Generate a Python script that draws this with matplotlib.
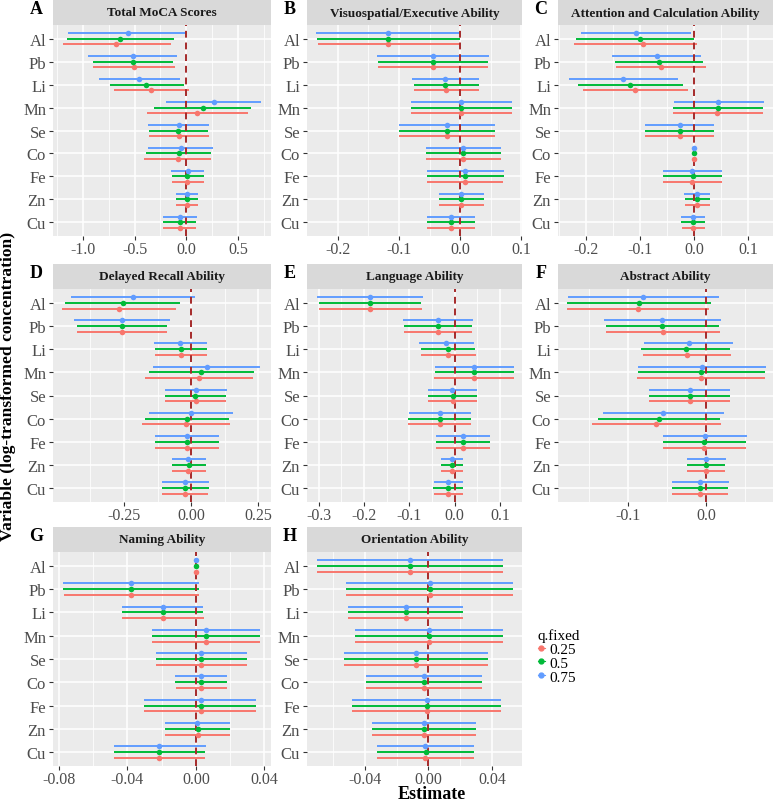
import matplotlib
matplotlib.use("Agg")
import matplotlib.pyplot as plt
from matplotlib.ticker import FormatStrFormatter
from matplotlib.lines import Line2D
import numpy as np

# ---- data (rows: q.fixed = 0.25, 0.5, 0.75; columns follow `metals`) ----
metals = ["Al", "Pb", "Li", "Mn", "Se", "Co", "Fe", "Zn", "Cu"]
quantiles = ["0.25", "0.5", "0.75"]
q_colors = ["#F8766D", "#00BA38", "#619CFF"]

titles = ["Total MoCA Scores", "Visuospatial/Executive Ability",
          "Attention and Calculation Ability", "Delayed Recall Ability",
          "Language Ability", "Abstract Ability", "Naming Ability",
          "Orientation Ability"]
letters = ["A", "B", "C", "D", "E", "F", "G", "H"]

# A  Total MoCA Scores
moca_est = [[-0.68, -0.51, -0.34, 0.106, -0.074, -0.084, 0.01, 0.01, -0.065],
            [-0.64, -0.52, -0.39, 0.16, -0.077, -0.07, 0.01, 0.006, -0.065],
            [-0.565, -0.516, -0.455, 0.265, -0.074, -0.055, 0.013, 0.003, -0.065]]
moca_lo = [[-1.19, -0.90, -0.70, -0.38, -0.365, -0.41, -0.14, -0.097, -0.226],
           [-1.155, -0.905, -0.74, -0.31, -0.36, -0.39, -0.14, -0.097, -0.226],
           [-1.14, -0.95, -0.84, -0.20, -0.37, -0.37, -0.15, -0.097, -0.23]]
moca_hi = [[-0.15, -0.11, 0.03, 0.60, 0.216, 0.235, 0.17, 0.11, 0.097],
           [-0.12, -0.13, -0.026, 0.625, 0.21, 0.24, 0.17, 0.11, 0.097],
           [0.0, -0.09, -0.06, 0.72, 0.22, 0.26, 0.17, 0.11, 0.10]]

# B  Visuospatial/Executive Ability
visu_est = [[-0.117, -0.045, -0.023, 0.002, -0.0215, 0.005, 0.008, 0.002, -0.0145],
            [-0.117, -0.045, -0.024, 0.002, -0.0215, 0.005, 0.008, 0.002, -0.0145],
            [-0.117, -0.045, -0.024, 0.002, -0.0215, 0.005, 0.008, 0.002, -0.0145]]
visu_lo = [[-0.232, -0.134, -0.076, -0.081, -0.100, -0.056, -0.054, -0.034, -0.054],
           [-0.233, -0.134, -0.076, -0.081, -0.100, -0.056, -0.054, -0.034, -0.054],
           [-0.235, -0.135, -0.078, -0.080, -0.100, -0.056, -0.054, -0.034, -0.054]]
visu_hi = [[0.0, 0.046, 0.031, 0.084, 0.057, 0.067, 0.070, 0.039, 0.024],
           [0.0, 0.046, 0.030, 0.084, 0.057, 0.067, 0.071, 0.039, 0.025],
           [0.0, 0.047, 0.030, 0.085, 0.057, 0.067, 0.071, 0.039, 0.025]]

# C  Attention and Calculation Ability
attn_est = [[-0.094, -0.062, -0.109, 0.043, -0.027, 0.0, -0.0035, 0.0055, -0.0025],
            [-0.100, -0.065, -0.118, 0.0445, -0.027, 0.0, -0.003, 0.0055, -0.002],
            [-0.107, -0.069, -0.132, 0.045, -0.027, 0.0, -0.004, 0.006, -0.0025]]
attn_lo = [[-0.223, -0.145, -0.205, -0.040, -0.091, -0.0005, -0.057, -0.017, -0.023],
           [-0.218, -0.147, -0.215, -0.039, -0.091, -0.0005, -0.057, -0.017, -0.024],
           [-0.210, -0.152, -0.232, -0.037, -0.091, -0.0005, -0.057, -0.018, -0.024]]
attn_hi = [[0.0055, 0.0225, -0.011, 0.127, 0.037, 0.0005, 0.051, 0.030, 0.020],
           [-0.001, 0.017, -0.021, 0.127, 0.037, 0.0005, 0.052, 0.030, 0.020],
           [-0.006, 0.013, -0.030, 0.129, 0.037, 0.0005, 0.052, 0.030, 0.021]]

# D  Delayed Recall Ability
recall_est = [[-0.267, -0.259, -0.037, 0.030, 0.017, -0.020, -0.015, -0.010, -0.0235],
              [-0.255, -0.259, -0.038, 0.037, 0.016, -0.014, -0.015, -0.009, -0.0235],
              [-0.217, -0.259, -0.040, 0.058, 0.017, 0.0, -0.016, -0.010, -0.0235]]
recall_lo = [[-0.479, -0.426, -0.136, -0.172, -0.097, -0.183, -0.135, -0.071, -0.107],
             [-0.470, -0.426, -0.136, -0.158, -0.097, -0.170, -0.135, -0.071, -0.107],
             [-0.447, -0.436, -0.137, -0.141, -0.097, -0.156, -0.136, -0.072, -0.110]]
recall_hi = [[-0.058, -0.090, 0.059, 0.230, 0.131, 0.145, 0.104, 0.054, 0.063],
             [-0.040, -0.090, 0.059, 0.235, 0.131, 0.142, 0.104, 0.054, 0.066],
             [0.015, -0.078, 0.060, 0.256, 0.134, 0.155, 0.104, 0.054, 0.066]]

# E  Language Ability
lang_est = [[-0.186, -0.037, -0.015, 0.043, -0.0045, -0.033, 0.019, -0.005, -0.014],
            [-0.187, -0.037, -0.015, 0.043, -0.0045, -0.032, 0.019, -0.005, -0.014],
            [-0.187, -0.037, -0.018, 0.043, -0.005, -0.032, 0.019, -0.005, -0.014]]
lang_lo = [[-0.2985, -0.112, -0.074, -0.045, -0.058, -0.103, -0.040, -0.031, -0.046],
           [-0.300, -0.112, -0.075, -0.044, -0.058, -0.102, -0.040, -0.031, -0.047],
           [-0.304, -0.114, -0.079, -0.043, -0.058, -0.101, -0.040, -0.030, -0.046]]
lang_hi = [[-0.072, 0.039, 0.047, 0.131, 0.0485, 0.036, 0.078, 0.018, 0.018],
           [-0.0735, 0.039, 0.045, 0.131, 0.0485, 0.036, 0.078, 0.018, 0.018],
           [-0.070, 0.040, 0.044, 0.132, 0.0485, 0.036, 0.078, 0.019, 0.019]]

# F  Abstract Ability
abst_est = [[-0.0864, -0.0553, -0.024, -0.0068, -0.021, -0.0634, -0.002, 0.0004, -0.0077],
            [-0.085, -0.0557, -0.026, -0.0064, -0.021, -0.060, -0.002, 0.0004, -0.0077],
            [-0.080, -0.0557, -0.022, -0.0055, -0.021, -0.0545, -0.0013, 0.0004, -0.0072]]
abst_lo = [[-0.177, -0.128, -0.081, -0.088, -0.073, -0.145, -0.055, -0.024, -0.043],
           [-0.177, -0.128, -0.083, -0.087, -0.073, -0.1375, -0.0545, -0.024, -0.043],
           [-0.176, -0.130, -0.079, -0.087, -0.073, -0.132, -0.0545, -0.024, -0.043]]
abst_hi = [[0.004, 0.018, 0.032, 0.075, 0.031, 0.0187, 0.0506, 0.024, 0.028],
           [0.0064, 0.0166, 0.031, 0.075, 0.031, 0.018, 0.0506, 0.024, 0.0277],
           [0.0166, 0.0196, 0.0345, 0.0766, 0.031, 0.0226, 0.0523, 0.025, 0.029]]

# G  Naming Ability
name_est = [[0.0, -0.0379, -0.0192, 0.006, 0.0029, 0.0031, 0.0027, 0.001, -0.0214],
            [0.0, -0.0379, -0.0194, 0.006, 0.0029, 0.0029, 0.0027, 0.001, -0.0214],
            [0.0, -0.0379, -0.0194, 0.006, 0.0029, 0.0029, 0.0027, 0.0008, -0.0214]]
name_lo = [[-0.0003, -0.0771, -0.0429, -0.0258, -0.0235, -0.0118, -0.0301, -0.0183, -0.0476],
           [-0.0003, -0.0775, -0.0429, -0.0258, -0.0235, -0.012, -0.0301, -0.0183, -0.0478],
           [-0.0003, -0.0775, -0.0431, -0.0258, -0.0235, -0.012, -0.0301, -0.0183, -0.048]]
name_hi = [[0.0003, 0.0019, 0.0045, 0.0375, 0.0297, 0.018, 0.0351, 0.020, 0.0054],
           [0.0003, 0.0019, 0.0043, 0.0375, 0.0297, 0.018, 0.0351, 0.020, 0.0054],
           [0.0003, 0.0021, 0.0043, 0.0375, 0.0297, 0.018, 0.0351, 0.020, 0.0058]]

# H  Orientation Ability
orient_est = [[-0.0115, 0.001, -0.0144, 0.0002, -0.0079, -0.0027, -0.001, -0.0027, -0.0019],
              [-0.0115, 0.001, -0.0144, 0.0002, -0.0079, -0.0027, -0.001, -0.0027, -0.0017],
              [-0.0115, 0.001, -0.0144, 0.0002, -0.0079, -0.0027, -0.001, -0.0027, -0.0019]]
orient_lo = [[-0.070, -0.052, -0.0506, -0.0465, -0.0533, -0.0394, -0.0483, -0.0354, -0.0327],
             [-0.070, -0.052, -0.0506, -0.0465, -0.0533, -0.0394, -0.0483, -0.0354, -0.0327],
             [-0.070, -0.052, -0.0506, -0.0465, -0.0533, -0.0394, -0.0483, -0.0354, -0.0327]]
orient_hi = [[0.047, 0.0535, 0.0215, 0.047, 0.0375, 0.034, 0.046, 0.030, 0.029],
             [0.047, 0.0535, 0.0215, 0.047, 0.0375, 0.034, 0.046, 0.030, 0.029],
             [0.047, 0.0535, 0.0215, 0.047, 0.0375, 0.034, 0.046, 0.030, 0.029]]

# tick marks shown on each panel
ticks_a = [-1.0, -0.5, 0.0, 0.5]
ticks_b = [-0.2, -0.1, 0.0, 0.1]
ticks_c = [-0.2, -0.1, 0.0, 0.1]
ticks_d = [-0.25, 0.0, 0.25]
ticks_e = [-0.3, -0.2, -0.1, 0.0, 0.1]
ticks_f = [-0.1, 0.0]
ticks_g = [-0.08, -0.04, 0.0, 0.04]
ticks_h = [-0.04, 0.0, 0.04]

# ---- layout (pixels in a 776 x 804 canvas) ----
W, H = 776, 804
plt.rcParams["font.family"] = ["Liberation Serif", "DejaVu Serif"]

fig = plt.figure(figsize=(W / 100, H / 100), dpi=100)


def px_rect(x0, y0, x1, y1):
    return [x0 / W, 1 - y1 / H, (x1 - x0) / W, (y1 - y0) / H]


cols = [(53, 271), (307, 522), (558, 773)]
rows = [(26, 237), (290, 503), (553, 767)]
strip_h = 25

panels = [
    (moca_est, moca_lo, moca_hi, ticks_a, (-1.29, 0.82), 1),
    (visu_est, visu_lo, visu_hi, ticks_b, (-0.25, 0.101), 1),
    (attn_est, attn_lo, attn_hi, ticks_c, (-0.252, 0.146), 1),
    (recall_est, recall_lo, recall_hi, ticks_d, (-0.514, 0.297), 2),
    (lang_est, lang_lo, lang_hi, ticks_e, (-0.326, 0.149), 1),
    (abst_est, abst_lo, abst_hi, ticks_f, (-0.189, 0.0855), 1),
    (name_est, name_lo, name_hi, ticks_g, (-0.0835, 0.0439), 2),
    (orient_est, orient_lo, orient_hi, ticks_h, (-0.0766, 0.059), 2),
]

offsets = [0.25, 0.0, -0.25]   # 0.25 drawn lowest, 0.75 on top
ypos = np.arange(len(metals))

for k, (est, lo, hi, ticks, xlim, dec) in enumerate(panels):
    r, c = divmod(k, 3)
    x0, x1 = cols[c]
    y0, y1 = rows[r]

    ax = fig.add_axes(px_rect(x0, y0, x1, y1))
    ax.set_facecolor("#EBEBEB")
    for qi in range(3):
        yy = ypos + offsets[qi]
        ax.hlines(yy, lo[qi], hi[qi], color=q_colors[qi], lw=1.4, zorder=2)
        ax.scatter(est[qi], yy, s=16, color=q_colors[qi], zorder=4, linewidths=0)
    ax.axvline(0, color="#A52A2A", lw=1.4, ls=(0, (3.5, 2.5)), zorder=3)

    ax.set_xlim(*xlim)
    ax.set_ylim(len(metals) - 0.4, -0.6)
    ax.set_xticks(ticks)
    step = ticks[1] - ticks[0]
    minors = np.arange(ticks[0] - step * 1.5, xlim[1], step)
    ax.set_xticks([m for m in minors if xlim[0] < m < xlim[1]], minor=True)
    ax.xaxis.set_major_formatter(FormatStrFormatter("%%.%df" % dec))
    ax.set_yticks(ypos)
    ax.set_yticklabels(metals)
    ax.grid(which="major", color="white", lw=1.1, zorder=0)
    ax.grid(which="minor", axis="x", color="white", lw=0.55, zorder=0)
    ax.set_axisbelow(True)
    for s in ax.spines.values():
        s.set_visible(False)
    ax.tick_params(which="major", length=3, width=0.8, color="#333333",
                   labelcolor="#4D4D4D", labelsize=12, pad=2)
    ax.tick_params(axis="x", which="major", pad=0.5, labelsize=11.5)
    ax.tick_params(which="minor", length=0)

    sax = fig.add_axes(px_rect(x0, y0 - strip_h, x1, y0))
    sax.set_facecolor("#D9D9D9")
    sax.set_xticks([])
    sax.set_yticks([])
    for s in sax.spines.values():
        s.set_visible(False)
    sax.text(0.5, 0.5, titles[k], ha="center", va="center", fontsize=9.5,
             fontweight="bold", color="#1A1A1A", transform=sax.transAxes)

    fig.text((x0 - 17) / W, 1 - (y0 - 16) / H, letters[k], ha="center",
             va="center", fontsize=13, fontweight="bold")

# axis titles
fig.text(8 / W, 1 - 386 / H, "Variable (log-transformed concentration)",
         rotation=90, ha="center", va="center", fontsize=12.6, fontweight="bold")
fig.text(432 / W, 1 - 795 / H, "Estimate", ha="center", va="center",
         fontsize=13, fontweight="bold")

# legend
handles = [Line2D([0], [0], marker="o", color=q_colors[i], lw=0.8,
                  markersize=3.5) for i in range(3)]
fig.legend(handles, quantiles, title="q.fixed", loc="upper left",
           bbox_to_anchor=(530 / W, 1 - 622 / H), frameon=False,
           fontsize=11, title_fontsize=11, handlelength=0.5,
           handletextpad=0.3, labelspacing=0.0, borderpad=0,
           alignment="left")

fig.savefig("out.png", dpi=100)
